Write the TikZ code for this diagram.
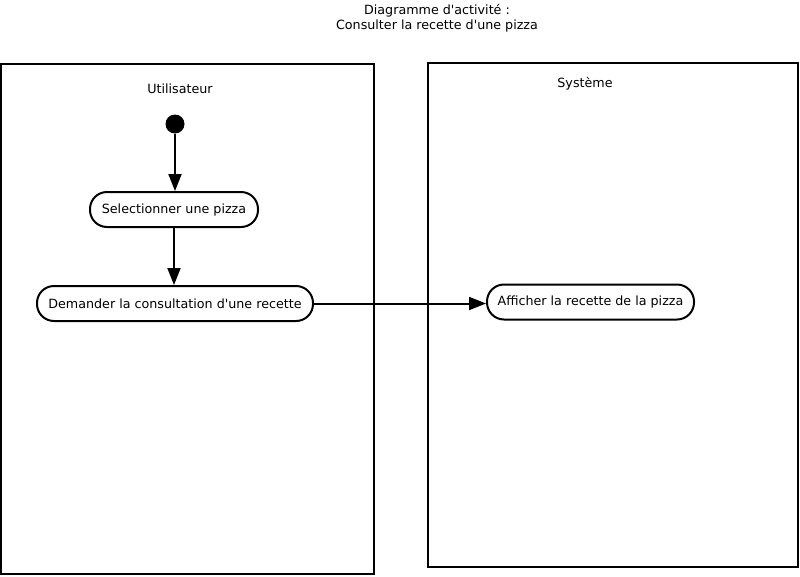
\documentclass[tikz,border=0pt]{standalone}
\usepackage{fontspec}
\newfontfamily\dv{DejaVu Sans}
\usetikzlibrary{arrows.meta}
\begin{document}
\begin{tikzpicture}[x=1pt,y=-1pt,
  lane/.style={draw,line width=2pt},
  label/.style={font=\dv\fontsize{12.7}{14.5}\selectfont},
  action/.style={label,draw,line width=2pt,rounded corners=17pt,minimum height=35pt,
    inner xsep=9pt},
  flow/.style={line width=2pt,-{Triangle[length=17pt,width=13pt]}}]
\useasboundingbox (0,0) rectangle (800,576);
% title
\node[label,align=center] (title) at (437,18) {Diagramme d'activité :\\Consulter la recette d'une pizza};
% swimlanes
\draw[lane] (1,64) rectangle (374,574);
\draw[lane] (428,63) rectangle (798,567);
\node[label] (user) at (180,89) {Utilisateur};
\node[label] (sys) at (585,84) {Système};
% start state
\node[circle,fill=black,minimum size=19pt,inner sep=0pt] (start) at (175,124) {};
% actions
\node[action,minimum width=168pt] (select) at (174,209.5) {Selectionner une pizza};
\node[action,minimum width=276pt] (ask) at (175,303.5) {Demander la consultation d'une recette};
\node[action,minimum width=207pt] (show) at (590.5,302) {Afficher la recette de la pizza};
% transitions
\draw[flow] (start) -- (start |- select.north);
\draw[flow] (select) -- (select |- ask.north);
\draw[flow] (ask.east) -- (ask.east -| show.west);
\end{tikzpicture}
\end{document}
